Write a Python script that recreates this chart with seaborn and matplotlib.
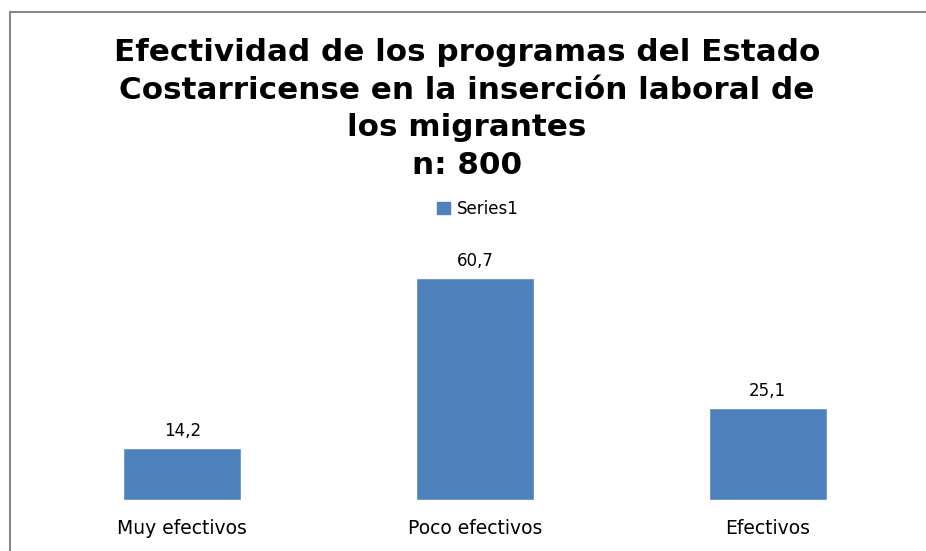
import matplotlib
matplotlib.use("Agg")
import matplotlib.pyplot as plt
import seaborn as sns
import pandas as pd
from matplotlib.lines import Line2D
from matplotlib.patches import Patch

categories = ["Muy efectivos", "Poco efectivos", "Efectivos"]
values = [14.2, 60.7, 25.1]
value_labels = ["14,2", "60,7", "25,1"]
series_name = "Series1"
title = "Efectividad de los programas del Estado\nCostarricense en la inserción laboral de\nlos migrantes\nn: 800"

sns.set_theme(style="white")
plt.rcParams['font.family'] = ['DejaVu Sans']

W, H = 926, 551
fig = plt.figure(figsize=(W/100, H/100), dpi=100)
ax = fig.add_axes([36/W, 1-500/H, (914-36)/W, (500-244)/H])

df = pd.DataFrame({"cat": categories, "val": values})
sns.barplot(data=df, x="cat", y="val", color="#4F81BD", saturation=1, width=0.403, ax=ax)
ax.set_ylim(0, 70)
ax.set_xlim(-0.5, 2.5)
for i, (v, lab) in enumerate(zip(values, value_labels)):
    ax.text(i, v + 2.2, lab, ha="center", va="bottom", fontsize=12, color="#000000")
ax.set_xlabel("")
ax.set_ylabel("")
ax.set_yticks([])
ax.tick_params(axis="x", length=0, pad=14, labelsize=13.5, labelcolor="#000000")
for s in ax.spines.values():
    s.set_visible(False)

fig.text(467/W, 1-38/H, title, ha="center", va="top", fontsize=22.3, fontweight="bold",
         linespacing=1.38, color="#000000")

fig.legend(handles=[Patch(color="#4F81BD", label=series_name)], loc="center",
           bbox_to_anchor=(478/W, 1-209/H), frameon=False, fontsize=12,
           handlelength=0.75, handleheight=0.75, handletextpad=0.45, labelcolor="#000000")

fig.add_artist(Line2D([10/W, 10/W], [0, 1-12/H], color="#888888", lw=1.5, transform=fig.transFigure))
fig.add_artist(Line2D([10/W, 1], [1-12/H, 1-12/H], color="#888888", lw=1.5, transform=fig.transFigure))

fig.savefig("out.png", dpi=100)
